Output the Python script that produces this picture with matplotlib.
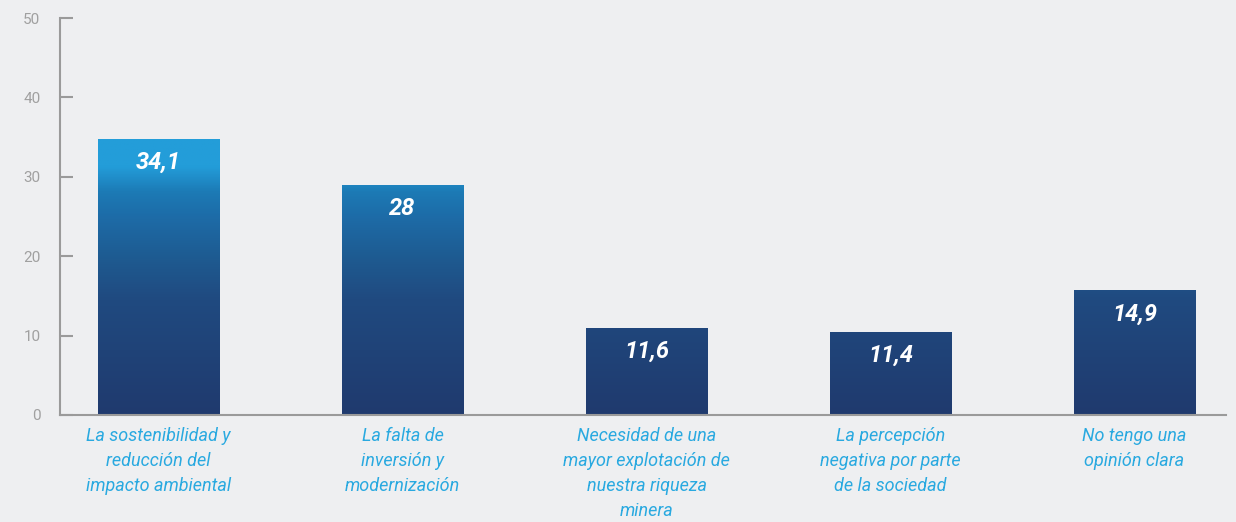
import numpy as np
import matplotlib.pyplot as plt
from matplotlib.colors import LinearSegmentedColormap

# Datos
categorias = ['La sostenibilidad y\nreducción del\nimpacto ambiental',
              'La falta de\ninversión y\nmodernización',
              'Necesidad de una\nmayor explotación de\nnuestra riqueza\nminera',
              'La percepción\nnegativa por parte\nde la sociedad',
              'No tengo una\nopinión clara']
valores = [34.1, 28, 11.6, 11.4, 14.9]
etiquetas = ['34,1', '28', '11,6', '11,4', '14,9']
# altura de las barras tal como aparece en el gráfico original
alturas = [34.8, 29.0, 11.0, 10.5, 15.7]
yticks = [0, 10, 20, 30, 40, 50]

fondo = '#eeeff1'
fig = plt.figure(figsize=(12.36, 5.22), dpi=100, facecolor=fondo)
ax = fig.add_axes([0.0485, 0.205, 0.9434, 0.7605], facecolor=fondo)

# degradado vertical común a todas las barras
cmap = LinearSegmentedColormap.from_list('azul', [
    (0.0, '#1f3a6e'), (0.29, '#204a80'), (0.39, '#1e5a90'),
    (0.50, '#1d6ca8'), (0.56, '#1c7ab5'), (0.625, '#239dd9'), (1.0, '#239dd9')])
grad = np.linspace(0, 1, 256).reshape(-1, 1)

x = np.arange(len(valores))
bars = ax.bar(x, alturas, width=0.496, color='none', zorder=2)
for b in bars:
    im = ax.imshow(grad, cmap=cmap, origin='lower', aspect='auto',
                   extent=[b.get_x(), b.get_x() + b.get_width(), 0, 50],
                   zorder=2)
    im.set_clip_path(b)

for xi, h, t in zip(x, alturas, etiquetas):
    ax.text(xi, h - 3.0, t, ha='center', va='center', color='white',
            fontsize=17, fontweight='bold', fontstyle='italic',
            family='Roboto', zorder=3)

for xi, c in zip(x, categorias):
    ax.text(xi, -1.5, c, ha='center', va='top', color='#29a9e0',
            fontsize=13, fontstyle='italic', linespacing=1.5,
            family='Roboto')

ax.set_xlim(-0.404, 4.375)
ax.set_ylim(0, 50)
ax.set_yticks(yticks)
ax.set_xticks([])
ax.tick_params(axis='y', direction='in', length=9, width=1.5, color='#9a9a9a',
               labelcolor='#a0a0a0', labelsize=11, pad=14)
for lbl in ax.get_yticklabels():
    lbl.set_family('Roboto')
for s in ['top', 'right']:
    ax.spines[s].set_visible(False)
for s in ['left', 'bottom']:
    ax.spines[s].set_color('#9a9a9a')
    ax.spines[s].set_linewidth(1.5)

plt.savefig('out.png', dpi=100, facecolor=fondo)
